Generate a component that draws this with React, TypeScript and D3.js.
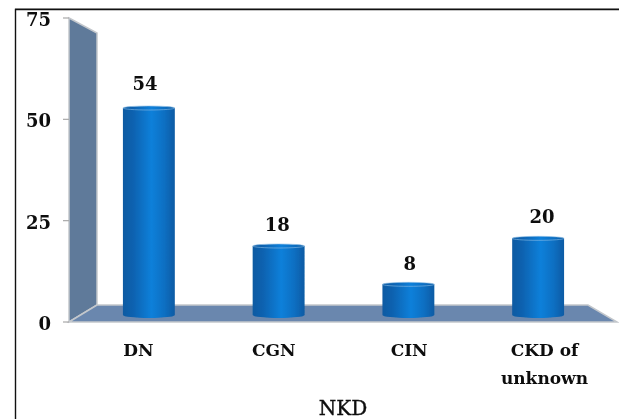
import React from "react";
import * as d3 from "d3";

const categories = ["DN", "CGN", "CIN", "CKD of|unknown"];
const values = [54, 18, 8, 20];
const yTicks = [0, 25, 50, 75];
const axisTitle = "NKD";

const FONT = "'DejaVu Serif', serif";

export default function App() {
  // Front plane of the axis, plus the scale bars stand on, set back into the depth of the plot.
  const y = d3.scaleLinear().domain([0, 75]).range([322, 18]);
  const yBar = d3.scaleLinear().domain([0, 54]).range([315, 108]);
  const yLabel = d3.scaleLinear().domain([0, 54]).range([301, 90]);
  const x = d3.scaleBand<number>().domain(d3.range(categories.length)).range([84, 603]).paddingInner(0.6).paddingOuter(0.3);
  const xValue = d3.scalePoint<number>().domain(d3.range(categories.length)).range([145, 542]);
  const xCategory = d3.scalePoint<number>().domain(d3.range(categories.length)).range([138.5, 544.5]);
  const wallX0 = 69, wallX1 = 97, floorY = 305, floorRight = 588, floorTip = 617;
  const rx = x.bandwidth() / 2;
  const ry = 3;

  const wall = d3.line()([[wallX0, y(75)], [wallX1, y(75) + 15], [wallX1, floorY], [wallX0, y(0)]]) + "Z";
  const floor = d3.line()([[wallX0, y(0)], [wallX1, floorY], [floorRight, floorY], [floorTip, y(0)]]) + "Z";

  return (
    <svg width={619} height={419} style={{ position: "absolute", left: 0, top: 0 }}>
      <defs>
        <linearGradient id="barFill" x1="0" x2="1" y1="0" y2="0">
          <stop offset="0" stopColor="#0c5aa2" />
          <stop offset="0.2" stopColor="#0b62b0" />
          <stop offset="0.55" stopColor="#1080da" />
          <stop offset="0.8" stopColor="#0c6fc2" />
          <stop offset="1" stopColor="#0b5ba4" />
        </linearGradient>
        <filter id="soft" x="-5%" y="-5%" width="110%" height="110%">
          <feGaussianBlur stdDeviation="0.4" />
        </filter>
      </defs>
      <rect width={619} height={419} fill="#fff" />
      <line x1={15} x2={619} y1={8.5} y2={8.5} stroke="#aaa" strokeWidth={1} />
      <path d="M15.5 419V9.5H619" fill="none" stroke="#111" strokeWidth={1.4} />
      <g filter="url(#soft)">
        <path d={wall} fill="#5f7a9a" stroke="#c3c7cc" strokeWidth={1.5} />
        <path d={floor} fill="#6a87ae" stroke="#c3c7cc" strokeWidth={1.5} />
        {yTicks.map(t => (
          <line key={t} x1={63} x2={wallX0} y1={y(t)} y2={y(t)} stroke="#a9a9a9" strokeWidth={1.2} />
        ))}
      </g>
      {values.map((v, i) => {
        const x0 = x(i)!;
        const x1 = x0 + x.bandwidth();
        const top = yBar(v);
        const base = yBar(0);
        const body = `M${x0} ${top}V${base}A${rx} ${ry} 0 0 0 ${x1} ${base}V${top}Z`;
        return (
          <g key={categories[i]} filter="url(#soft)">
            <path d={body} fill="url(#barFill)" />
            <ellipse cx={x0 + rx} cy={top} rx={rx} ry={ry - 1} fill="url(#barFill)" stroke="#8dbde6" strokeWidth={0.6} />
          </g>
        );
      })}
      <g fontFamily={FONT} fontWeight="bold" fontSize={18} fill="#111" filter="url(#soft)">
        {values.map((v, i) => (
          <text key={i} x={xValue(i)} y={yLabel(v)} textAnchor="middle">{v}</text>
        ))}
        {yTicks.map(t => (
          <text key={t} x={51} y={y(t) + 8} textAnchor="end">{t}</text>
        ))}
        {categories.map((c, i) => (
          <text key={c} y={356} textAnchor="middle" fontSize={17}>
            {c.split("|").map((line, k) => (
              <tspan key={k} x={xCategory(i)} dy={k ? 28 : 0}>{line}</tspan>
            ))}
          </text>
        ))}
        <text x={343} y={415} textAnchor="middle" fontWeight="normal" fontSize={20} stroke="#111" strokeWidth={0.4}>{axisTitle}</text>
      </g>
    </svg>
  );
}
